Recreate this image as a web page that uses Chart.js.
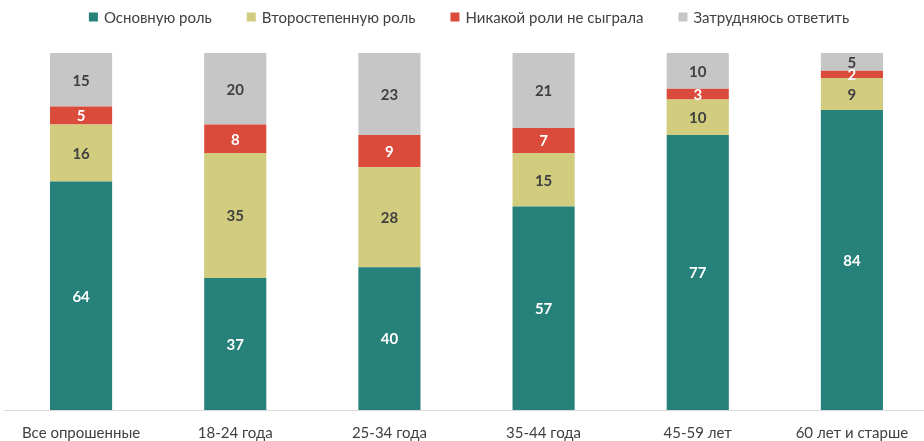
<!DOCTYPE html>
<html>
<head>
<meta charset="utf-8">
<script src="https://cdn.jsdelivr.net/npm/chart.js@4"></script>
<style>
  html, body { margin: 0; padding: 0; background: #fff; overflow: hidden; }
  #wrap { width: 930px; height: 456px; }
</style>
</head>
<body>
<div id="wrap"><canvas id="myChart"></canvas></div>
<script>
const categories = ['Все опрошенные', '18-24 года', '25-34 года', '35-44 года', '45-59 лет', '60 лет и старше'];
const mainRole = [64, 37, 40, 57, 77, 84];
const secondRole = [16, 35, 28, 15, 10, 9];
const noRole = [5, 8, 9, 7, 3, 2];
const hardToSay = [15, 20, 23, 21, 10, 5];

const FONT = "Lato, 'Open Sans', sans-serif";

// draws the numbers in the middle of each segment
const barLabels = {
    id: 'barLabels',
    afterDatasetsDraw(chart) {
        const ctx = chart.ctx;
        chart.data.datasets.forEach((ds, i) => {
            const meta = chart.getDatasetMeta(i);
            meta.data.forEach((bar, j) => {
                const p = bar.getProps(['x', 'y', 'base'], true);
                ctx.save();
                ctx.font = 'bold 15px ' + FONT;
                ctx.fillStyle = ds.labelColor;
                ctx.textAlign = 'center';
                ctx.textBaseline = 'middle';
                ctx.fillText(ds.data[j], p.x, (p.y + p.base) / 2 + 1);
                ctx.restore();
            });
        });
    }
};

// legend on top, wider gaps between items than the built-in one allows
const topLegend = {
    id: 'topLegend',
    afterDraw(chart) {
        const ctx = chart.ctx;
        const box = 9, gapText = 6, gapItem = 35, y = 17;
        ctx.save();
        ctx.font = '15px ' + FONT;
        ctx.textBaseline = 'middle';
        let widths = chart.data.datasets.map(ds => ctx.measureText(ds.label).width);
        let total = widths.reduce((a, w) => a + box + gapText + w, 0) + gapItem * (widths.length - 1);
        let x = 469 - total / 2;
        chart.data.datasets.forEach((ds, i) => {
            ctx.fillStyle = ds.backgroundColor;
            ctx.fillRect(x, y - box / 2, box, box);
            x += box + gapText;
            ctx.fillStyle = '#404040';
            ctx.fillText(ds.label, x, y + 1);
            x += widths[i] + gapItem;
        });
        ctx.restore();
    }
};

var ctx = document.getElementById('myChart').getContext('2d');
var chart = new Chart(ctx, {
    type: 'bar',
    data: {
        labels: categories,
        datasets: [
            { label: 'Основную роль', data: mainRole, backgroundColor: '#26817A', labelColor: '#ffffff' },
            { label: 'Второстепенную роль', data: secondRole, backgroundColor: '#D1CC7E', labelColor: '#404040' },
            { label: 'Никакой роли не сыграла', data: noRole, backgroundColor: '#DA4B3C', labelColor: '#ffffff' },
            { label: 'Затрудняюсь ответить', data: hardToSay, backgroundColor: '#C6C6C6', labelColor: '#404040' }
        ]
    },
    options: {
        responsive: true,
        maintainAspectRatio: false,
        animation: false,
        datasets: {
            bar: { categoryPercentage: 1, barPercentage: 0.403 }
        },
        layout: { padding: { left: 4, right: 1, top: 53, bottom: 0 } },
        plugins: {
            legend: { display: false },
            tooltip: { enabled: false }
        },
        scales: {
            x: {
                stacked: true,
                grid: { display: false, drawTicks: false },
                border: { color: '#D9D9D9' },
                ticks: { color: '#404040', font: { family: FONT, size: 15 }, padding: 14 }
            },
            y: {
                stacked: true,
                display: false,
                min: 0,
                max: 100
            }
        }
    },
    plugins: [barLabels, topLegend]
});
</script>
</body>
</html>
